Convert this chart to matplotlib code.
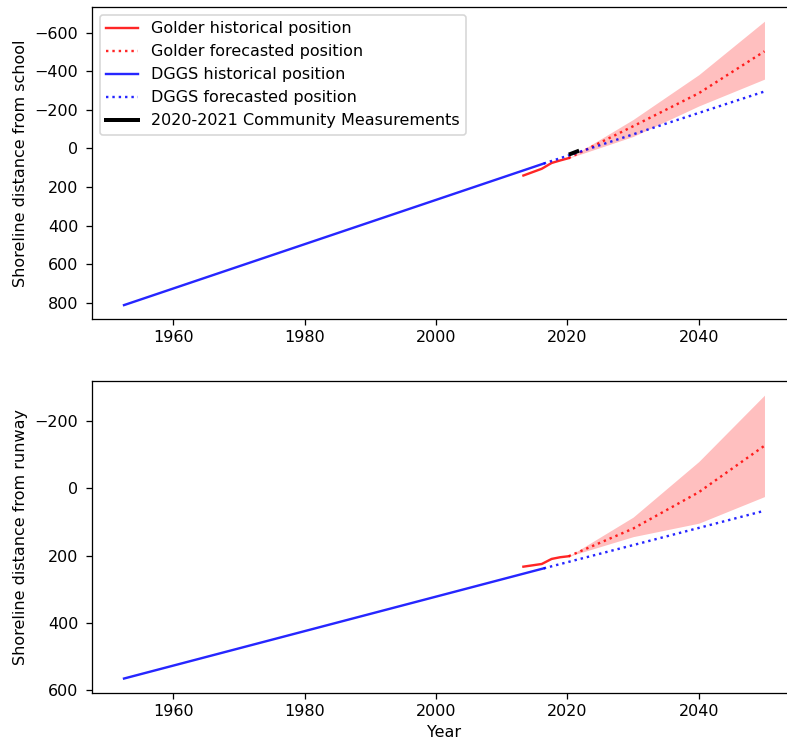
import matplotlib
matplotlib.use("Agg")
import matplotlib.pyplot as plt

DPI = 115
plt.rcParams['font.family'] = ['DejaVu Sans']
plt.rcParams['font.size'] = 10
plt.rcParams['ytick.major.pad'] = 5

# ---- School (top panel) ----
dggs_hist_years = [1952.5, 2016.4]
school_dggs_hist = [811, 78]
dggs_fc_years = [2016.4, 2030, 2040, 2050]
school_dggs_fc = [78, -73, -184, -295]

golder_hist_years = [2013.3, 2016.1, 2017.6, 2018.9, 2020.2]
school_golder_hist = [140, 105, 75, 62, 50]
golder_fc_years = [2020.2, 2030, 2040, 2050]
school_golder_fc = [50, -115, -286, -503]
school_golder_upper = [50, -150, -382, -659]
school_golder_lower = [50, -62, -220, -359]

community_years = [2020.5, 2021.5]
school_community = [28, 15]

# ---- Runway (bottom panel) ----
runway_dggs_hist = [565, 238]
runway_dggs_fc = [238, 169, 118, 67]
runway_golder_hist = [233, 225, 210, 205, 202]
runway_golder_fc = [202, 120, 12, -126]
runway_golder_upper = [202, 86, -79, -276]
runway_golder_lower = [202, 144, 104, 25]

W, H = 787, 743
fig = plt.figure(figsize=(W / DPI, H / DPI), dpi=DPI)
ax1 = fig.add_axes([92/W, 1 - 319.3/H, 704.5/W, 312.3/H])
ax2 = fig.add_axes([92/W, 1 - 692.7/H, 704.5/W, 311.7/H])

lw = 1.5
al = 0.85

# top
ax1.plot(golder_hist_years, school_golder_hist, color='red', lw=lw, alpha=al, label='Golder historical position')
ax1.plot(golder_fc_years, school_golder_fc, color='red', lw=lw, alpha=al, ls=':', label='Golder forecasted position')
ax1.fill_between(golder_fc_years, school_golder_lower, school_golder_upper, color='red', alpha=0.25, lw=0)
ax1.plot(dggs_hist_years, school_dggs_hist, color='blue', lw=lw, alpha=al, label='DGGS historical position')
ax1.plot(dggs_fc_years, school_dggs_fc, color='blue', lw=lw, alpha=al, ls=':', label='DGGS forecasted position')
ax1.plot(community_years, school_community, color='black', lw=2.5, label='2020-2021 Community Measurements')
ax1.invert_yaxis()
ax1.set_ylabel('Shoreline distance from school')
ax1.legend(loc='upper left')
ax1.set_xticks([1960, 1980, 2000, 2020, 2040])

# bottom
ax2.plot(golder_hist_years, runway_golder_hist, color='red', lw=lw, alpha=al)
ax2.plot(golder_fc_years, runway_golder_fc, color='red', lw=lw, alpha=al, ls=':')
ax2.fill_between(golder_fc_years, runway_golder_lower, runway_golder_upper, color='red', alpha=0.25, lw=0)
ax2.plot(dggs_hist_years, runway_dggs_hist, color='blue', lw=lw, alpha=al)
ax2.plot(dggs_fc_years, runway_dggs_fc, color='blue', lw=lw, alpha=al, ls=':')
ax2.invert_yaxis()
ax2.set_ylabel('Shoreline distance from runway')
ax2.set_xlabel('Year')
ax2.set_xticks([1960, 1980, 2000, 2020, 2040])

fig.savefig('out.png', dpi=DPI)
